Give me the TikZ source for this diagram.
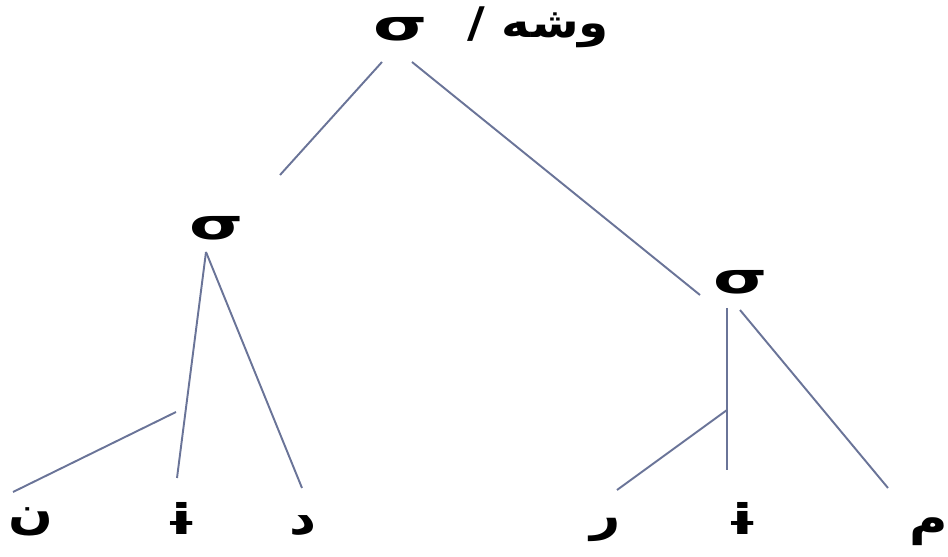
\documentclass[tikz,border=0pt]{standalone}
\usepackage{fontspec}
\usepackage{graphicx}
\setmainfont{DejaVu Sans}
\newfontfamily\arabicfont[Script=Arabic]{DejaVu Sans}
\TeXXeTstate=1
\usepackage{tikz}
\definecolor{linecol}{RGB}{106,116,152}
\newcommand{\stretchx}[2]{\scalebox{#1}[1]{#2}}

\begin{document}
\begin{tikzpicture}[x=0.02cm,y=-0.02cm,
  branch/.style={draw=linecol,line width=1.1pt},
  sig/.style={inner sep=0pt,font=\bfseries\fontsize{24}{26}\selectfont},
  seg/.style={inner sep=0pt,font=\arabicfont\bfseries\fontsize{26}{28}\selectfont}]
  \useasboundingbox (0,0) rectangle (948,557);
  \node[sig] (s0) at (401,29) {\stretchx{1.65}{σ}};
  \node[seg,font=\arabicfont\bfseries\fontsize{24}{26}\selectfont] (word) at (538,27) {\stretchx{1.15}{\beginR وشه /\endR}};
  \node[sig] (s1) at (217,228) {\stretchx{1.65}{σ}};
  \node[sig] (s2) at (741,282) {\stretchx{1.65}{σ}};
  \node[seg] (n) at (31,522) {\stretchx{1.15}{ن}};
  \node[sig] (i1) at (182,518) {\stretchx{1.4}{ɨ}};
  \node[seg] (d) at (303,526) {\stretchx{1.15}{د}};
  \node[seg] (r) at (606,530) {\stretchx{1.15}{ر}};
  \node[sig] (i2) at (743,518) {\stretchx{1.4}{ɨ}};
  \node[seg] (m) at (929,532) {\stretchx{1.15}{م}};
  \coordinate (s0l) at (382,62);
  \coordinate (s0r) at (412,62);
  \coordinate (s1top) at (280,175);
  \coordinate (s2top) at (700,295);
  \coordinate (s1foot) at (206,252);
  \coordinate (s2foot) at (727,308);
  \coordinate (s2leg) at (740,310);
  \coordinate (j1) at (176,412);
  \coordinate (j2) at (727,410);
  \coordinate (i1top) at (177,478);
  \coordinate (dtop) at (302,488);
  \coordinate (ntop) at (13,492);
  \coordinate (i2top) at (727,470);
  \coordinate (rtop) at (617,490);
  \coordinate (mtop) at (888,488);
  \draw[branch] (s0l) -- (s1top);
  \draw[branch] (s0r) -- (s2top);
  \draw[branch] (s1foot) -- (i1top);
  \draw[branch] (s1foot) -- (dtop);
  \draw[branch] (j1) -- (ntop);
  \draw[branch] (s2foot) -- (i2top);
  \draw[branch] (s2leg) -- (mtop);
  \draw[branch] (j2) -- (rtop);
\end{tikzpicture}
\end{document}
